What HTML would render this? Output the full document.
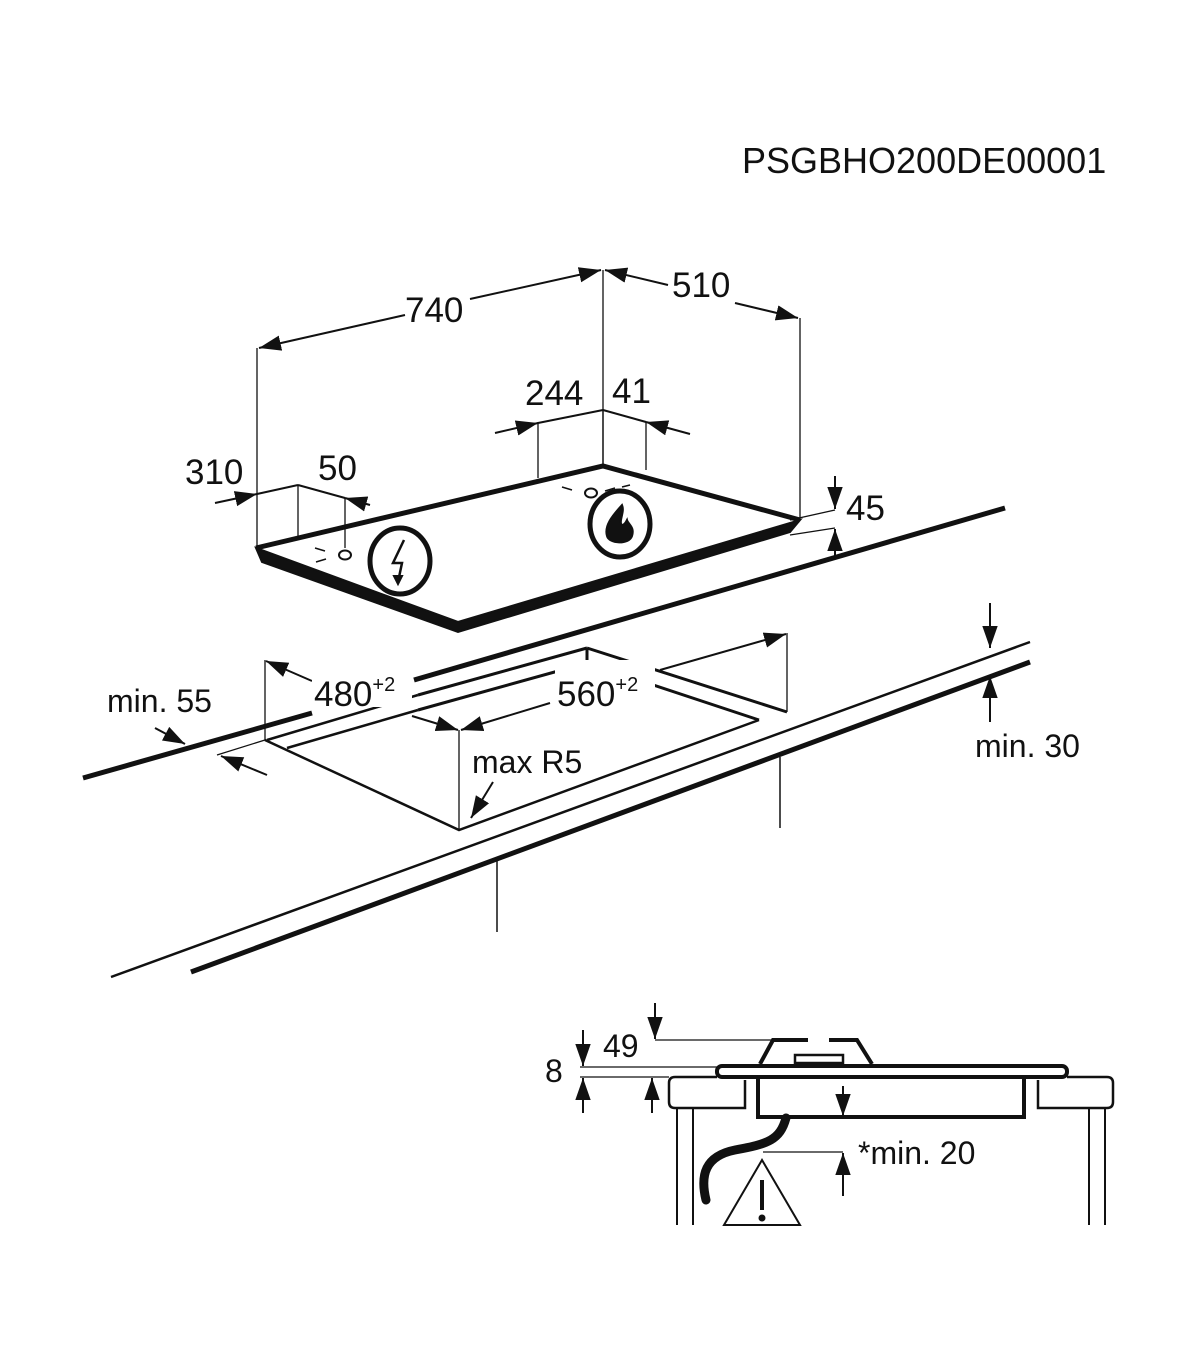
<!DOCTYPE html>
<html><head><meta charset="utf-8"><style>
html,body{margin:0;padding:0;background:#fff;}
svg{display:block}
text{font-family:"Liberation Sans",sans-serif;fill:#111}
</style></head><body>
<svg width="1200" height="1372" viewBox="0 0 1200 1372" xmlns="http://www.w3.org/2000/svg">
<defs>
<marker id="a" viewBox="0 0 10 10" refX="10" refY="5" markerWidth="9" markerHeight="9" markerUnits="userSpaceOnUse" orient="auto-start-reverse">
<path d="M0,1.5 L10,5 L0,8.5 z" fill="#111"/></marker>
<marker id="b" viewBox="0 0 10 10" refX="10" refY="5" markerWidth="22" markerHeight="22" markerUnits="userSpaceOnUse" orient="auto-start-reverse">
<path d="M0,1.5 L10,5 L0,8.5 z" fill="#111"/></marker>
</defs>
<g stroke="#111" fill="none" stroke-width="2">
<text x="742" y="173" font-size="36" stroke="none">PSGBHO200DE00001</text>

<!-- hob slab -->
<path d="M256,548 L458,622 L800,520 L790,532 L458,632 L262,562 Z" fill="#111" stroke="#111" stroke-width="2"/>
<path d="M256,548 L603,466 L800,520" stroke-width="5"/>
<!-- extension lines -->
<line x1="257" y1="548" x2="257" y2="348" stroke-width="1.3"/>
<line x1="603" y1="466" x2="603" y2="270" stroke-width="1.3"/>
<line x1="800" y1="520" x2="800" y2="318" stroke-width="1.3"/>
<!-- 740 / 510 -->
<line x1="405" y1="315" x2="259" y2="348" marker-end="url(#b)"/>
<line x1="470" y1="299" x2="601" y2="270" marker-end="url(#b)"/>
<line x1="668" y1="285" x2="605" y2="270" marker-end="url(#b)"/>
<line x1="735" y1="303" x2="798" y2="318" marker-end="url(#b)"/>
<text x="405" y="322" font-size="35" stroke="none">740</text>
<text x="672" y="297" font-size="35" stroke="none">510</text>
<!-- 244/41 -->
<line x1="538" y1="478" x2="538" y2="422" stroke-width="1.3"/>
<line x1="646" y1="470" x2="646" y2="422" stroke-width="1.3"/>
<line x1="603" y1="410" x2="603" y2="466" stroke-width="1.3"/>
<line x1="495" y1="433" x2="538" y2="423" marker-end="url(#b)"/>
<line x1="538" y1="423" x2="603" y2="410"/>
<line x1="603" y1="410" x2="646" y2="422"/>
<line x1="690" y1="434" x2="646" y2="422" marker-end="url(#b)"/>
<text x="525" y="405" font-size="35" stroke="none">244</text>
<text x="612" y="403" font-size="35" stroke="none">41</text>
<!-- 310/50 -->
<line x1="298" y1="538" x2="298" y2="485" stroke-width="1.3"/>
<line x1="345" y1="548" x2="345" y2="498" stroke-width="1.3"/>
<line x1="215" y1="503" x2="257" y2="494" marker-end="url(#b)"/>
<line x1="257" y1="494" x2="298" y2="485"/>
<line x1="298" y1="485" x2="345" y2="498"/>
<line x1="370" y1="505" x2="345" y2="498" marker-end="url(#b)"/>
<text x="185" y="484" font-size="35" stroke="none">310</text>
<text x="318" y="480" font-size="35" stroke="none">50</text>
<!-- connection points -->
<ellipse cx="345" cy="555" rx="6" ry="4.5" stroke-width="2"/>
<path d="M315,548 l10,3 M316,562 l10,-3" stroke-width="1.5"/>
<ellipse cx="591" cy="493" rx="6" ry="4.5" stroke-width="2"/>
<path d="M562,487 l10,3 M605,491 l10,-3 M622,487 l8,-2" stroke-width="1.5"/>
<!-- icons -->
<ellipse cx="400" cy="561" rx="30" ry="33" stroke-width="5"/>
<path d="M404,540 L393,563 L402,563 L398,582" stroke-width="2.5"/>
<path d="M394,576 L398,584 L402,576 Z" fill="#111"/>
<ellipse cx="620" cy="524" rx="30" ry="33" stroke-width="5"/>
<path d="M622,505 C612,516 604,526 607,536 C609,544 629,545 632,536 C635,527 628,524 627,520 C624,526 620,527 621,520 C622,514 624,510 622,505 Z" fill="#111"/>
<!-- 45 -->
<line x1="790" y1="520" x2="835" y2="510" stroke-width="1.3"/>
<line x1="790" y1="535" x2="835" y2="528" stroke-width="1.3"/>
<line x1="835" y1="476" x2="835" y2="509" marker-end="url(#b)"/>
<line x1="835" y1="556" x2="835" y2="529" marker-end="url(#b)"/>
<text x="846" y="520" font-size="35" stroke="none">45</text>

<!-- worktop -->
<line x1="414" y1="680" x2="1005" y2="508" stroke-width="5"/>
<line x1="418" y1="695" x2="587" y2="648" stroke-width="3"/>
<line x1="418" y1="710" x2="587" y2="663" stroke-width="3"/>
<path d="M587,648 L787,712 M587,663 L759,720 M587,648 L587,663" stroke-width="3"/>
<line x1="83" y1="778" x2="312" y2="713" stroke-width="5"/>
<path d="M267,740 L418,695 M287,748 L418,710" stroke-width="2.5"/>
<path d="M265,740 L459,830 L759,720" stroke-width="2.5"/>
<line x1="111" y1="977" x2="1030" y2="642" stroke-width="2.5"/>
<line x1="191" y1="972" x2="1030" y2="662" stroke-width="5"/>
<line x1="265" y1="660" x2="265" y2="740" stroke-width="1.3"/>
<line x1="459" y1="730" x2="459" y2="830" stroke-width="1.3"/>
<line x1="787" y1="633" x2="787" y2="712" stroke-width="1.3"/>
<line x1="780" y1="757" x2="780" y2="828" stroke-width="1.5"/>
<line x1="497" y1="860" x2="497" y2="932" stroke-width="1.5"/>
<!-- 480 / 560 -->
<line x1="312" y1="681" x2="266" y2="661" marker-end="url(#b)"/>
<line x1="412" y1="716" x2="458" y2="730" marker-end="url(#b)"/>
<line x1="550" y1="703" x2="461" y2="730" marker-end="url(#b)"/>
<line x1="660" y1="670" x2="786" y2="634" marker-end="url(#b)"/>
<rect x="312" y="665" width="100" height="42" fill="#fff" stroke="none"/>
<text x="314" y="706" font-size="35" stroke="none">480<tspan font-size="20" dy="-15">+2</tspan></text>
<rect x="555" y="660" width="100" height="40" fill="#fff" stroke="none"/>
<text x="557" y="706" font-size="35" stroke="none">560<tspan font-size="20" dy="-15">+2</tspan></text>
<!-- min 55 -->
<text x="107" y="712" font-size="32" stroke="none">min. 55</text>
<line x1="155" y1="728" x2="185" y2="744" marker-end="url(#b)"/>
<line x1="267" y1="775" x2="221" y2="756" marker-end="url(#b)"/>
<line x1="217" y1="755" x2="265" y2="740" stroke-width="1.3"/>
<!-- max R5 -->
<text x="472" y="773" font-size="32" stroke="none">max R5</text>
<line x1="493" y1="782" x2="471" y2="818" marker-end="url(#b)"/>
<!-- min 30 -->
<line x1="990" y1="603" x2="990" y2="648" marker-end="url(#b)"/>
<line x1="990" y1="722" x2="990" y2="676" marker-end="url(#b)"/>
<text x="975" y="757" font-size="32" stroke="none">min. 30</text>

<!-- bottom detail -->
<text x="603" y="1057" font-size="32" stroke="none">49</text>
<text x="545" y="1082" font-size="32" stroke="none">8</text>
<line x1="655" y1="1003" x2="655" y2="1039" marker-end="url(#b)"/>
<line x1="655" y1="1040" x2="775" y2="1040" stroke-width="1.3"/>
<path d="M760,1064 L773,1040 L808,1040 M829,1040 L857,1040 L872,1064" stroke-width="4"/>
<rect x="795" y="1055" width="48" height="8" stroke-width="2.5"/>
<rect x="717" y="1066" width="350" height="11" rx="5" stroke-width="4"/>
<line x1="580" y1="1067" x2="717" y2="1067" stroke-width="1.3"/>
<line x1="580" y1="1077" x2="669" y2="1077" stroke-width="1.3"/>
<line x1="583" y1="1030" x2="583" y2="1066" marker-end="url(#b)"/>
<line x1="583" y1="1113" x2="583" y2="1078" marker-end="url(#b)"/>
<line x1="652" y1="1113" x2="652" y2="1078" marker-end="url(#b)"/>
<path d="M745,1080 L745,1108 L675,1108 Q669,1108 669,1102 L669,1083 Q669,1077 675,1077 L717,1077" stroke-width="2.5"/>
<path d="M1038,1080 L1038,1108 L1107,1108 Q1113,1108 1113,1102 L1113,1083 Q1113,1077 1107,1077 L1067,1077" stroke-width="2.5"/>
<rect x="758" y="1077" width="266" height="40" stroke-width="4"/>
<path d="M677,1108 V1225 M693,1108 V1225 M1089,1108 V1225 M1105,1108 V1225" stroke-width="2"/>
<line x1="843" y1="1086" x2="843" y2="1116" marker-end="url(#b)"/>
<line x1="843" y1="1196" x2="843" y2="1153" marker-end="url(#b)"/>
<line x1="763" y1="1152" x2="843" y2="1152" stroke-width="1.3"/>
<text x="858" y="1164" font-size="32" stroke="none">*min. 20</text>
<path d="M786,1118 C780,1140 768,1144 735,1150 C705,1156 700,1175 706,1200" stroke-width="9" stroke-linecap="round"/>
<path d="M762,1160 L724,1225 L800,1225 Z" stroke-width="2"/>
<line x1="762" y1="1180" x2="762" y2="1210" stroke-width="4"/>
<circle cx="762" cy="1218" r="2.5" fill="#111"/>
</g>
</svg>
</body></html>
